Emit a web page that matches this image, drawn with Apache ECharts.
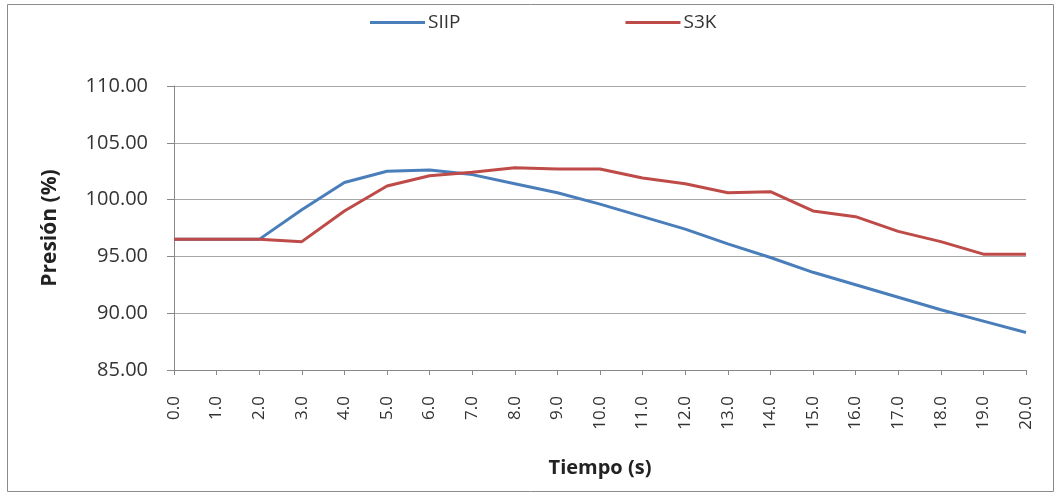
<!DOCTYPE html>
<html><head><meta charset="utf-8">
<script src="https://cdn.jsdelivr.net/npm/echarts@6/dist/echarts.min.js"></script>
<style>html,body{margin:0;padding:0;background:#fff}#c{width:1060px;height:497px}</style>
</head><body><div id="c"></div>
<script>
const categories = ['0.0','1.0','2.0','3.0','4.0','5.0','6.0','7.0','8.0','9.0','10.0','11.0','12.0','13.0','14.0','15.0','16.0','17.0','18.0','19.0','20.0'];
const siip = [96.5,96.5,96.5,99.1,101.5,102.5,102.6,102.2,101.4,100.6,99.6,98.5,97.4,96.1,94.9,93.6,92.5,91.4,90.3,89.3,88.3];
const s3k = [96.5,96.5,96.5,96.3,99.0,101.2,102.1,102.4,102.8,102.7,102.7,101.9,101.4,100.6,100.7,99.0,98.5,97.2,96.3,95.2,95.2];
const font = '"Open Sans", "Liberation Sans", sans-serif';
const chart = echarts.init(document.getElementById('c'));
chart.setOption({
  animation: false,
  textStyle: {fontFamily: font},
  graphic: [{type:'rect', shape:{x:7.5,y:4.5,width:1046,height:487}, style:{fill:null, stroke:'#8c8c8c', lineWidth:1}, silent:true}],
  legend: {
    top: 8, left: 365, itemGap: 165, itemWidth: 55, itemHeight: 3,
    icon: 'rect',
    textStyle: {fontSize: 19, color: '#333', fontFamily: font, padding:[0,0,0,-2]},
    data: ['SIIP','S3K']
  },
  grid: {left: 174, right: 34, top: 86, bottom: 127},
  xAxis: {
    type: 'category', data: categories, boundaryGap: false,
    name: 'Tiempo (s)', nameLocation: 'middle', nameGap: 88,
    nameTextStyle: {fontSize: 20, fontWeight: 'bold', color: '#222', fontFamily: font},
    axisLine: {lineStyle: {color: '#888'}},
    axisTick: {show: true, length: 5, lineStyle: {color: '#888'}},
    axisLabel: {rotate: 90, fontSize: 17, color: '#333', margin: 26, interval: 0}
  },
  yAxis: {
    type: 'value', min: 85, max: 110, interval: 5,
    name: 'Presión (%)', nameLocation: 'middle', nameGap: 113, nameRotate: 90,
    nameTextStyle: {fontSize: 21, fontWeight: 'bold', color: '#222', fontFamily: font},
    axisLine: {show: true, lineStyle: {color: '#888'}},
    axisTick: {show: true, length: 7, lineStyle: {color: '#888'}},
    axisLabel: {fontSize: 20, color: '#333', margin: 26, formatter: v => v.toFixed(2)},
    splitLine: {lineStyle: {color: '#a6a6a6'}}
  },
  series: [
    {name: 'SIIP', type: 'line', data: siip, symbol: 'none', lineStyle: {width: 3, color: '#4A7EBB'}, itemStyle: {color: '#4A7EBB'}},
    {name: 'S3K', type: 'line', data: s3k, symbol: 'none', lineStyle: {width: 3, color: '#BE4B48'}, itemStyle: {color: '#BE4B48'}}
  ]
});
</script></body></html>
